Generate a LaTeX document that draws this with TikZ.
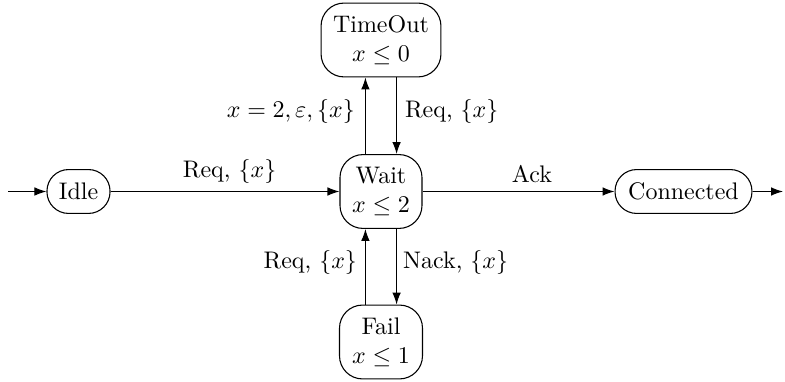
\documentclass[tikz,border=0pt]{standalone}
\usetikzlibrary{arrows.meta}
\begin{document}
\begin{tikzpicture}[x=0.417pt,y=-0.417pt,
  state/.style={draw,rounded corners=9.6pt,align=center,inner sep=0pt,line width=0.45pt},
  oneline/.style={state,rounded corners=9pt,minimum height=18.3pt},
  twoline/.style={state,minimum height=30.8pt},
  conn/.style={-{Latex[length=5pt,width=3.6pt]},line width=0.45pt},
  lbl/.style={inner sep=3.3pt}]
\useasboundingbox (0,0) rectangle (785,382);
\node[oneline,minimum width=26.3pt] (idle) at (78.5,191.5) {Idle};
\node[twoline,minimum width=34.2pt] (wait) at (381,191.5) {Wait\\$x\le 2$};
\node[twoline,minimum width=50pt] (timeout) at (381,40) {TimeOut\\$x\le 0$};
\node[twoline,minimum width=34.6pt] (fail) at (381,342) {Fail\\$x\le 1$};
\node[oneline,minimum width=57.1pt] (conn) at (683.5,191.5) {Connected};
\coordinate (start) at (8,191.5);
\coordinate (finish) at (783,191.5);
\draw[conn] (start) -- (idle);
\draw[conn] (idle) -- node[lbl,above,pos=0.52] {Req, $\{x\}$} (wait);
\draw[conn] (wait) -- node[lbl,above,pos=0.57] {Ack} (conn);
\draw[conn] (conn) -- (finish);
\draw[conn] ([xshift=-6.5pt]wait.north) -- node[lbl,left,inner sep=4.2pt,pos=0.55] {$x=2,\varepsilon,\{x\}$} ([xshift=-6.5pt]timeout.south);
\draw[conn] ([xshift=6.5pt]timeout.south) -- node[lbl,right,pos=0.45] {Req, $\{x\}$} ([xshift=6.5pt]wait.north);
\draw[conn] ([xshift=6.5pt]wait.south) -- node[lbl,right,pos=0.45,inner sep=2.5pt] {Nack, $\{x\}$} ([xshift=6.5pt]fail.north);
\draw[conn] ([xshift=-6.5pt]fail.north) -- node[lbl,left,pos=0.55] {Req, $\{x\}$} ([xshift=-6.5pt]wait.south);
\end{tikzpicture}
\end{document}
